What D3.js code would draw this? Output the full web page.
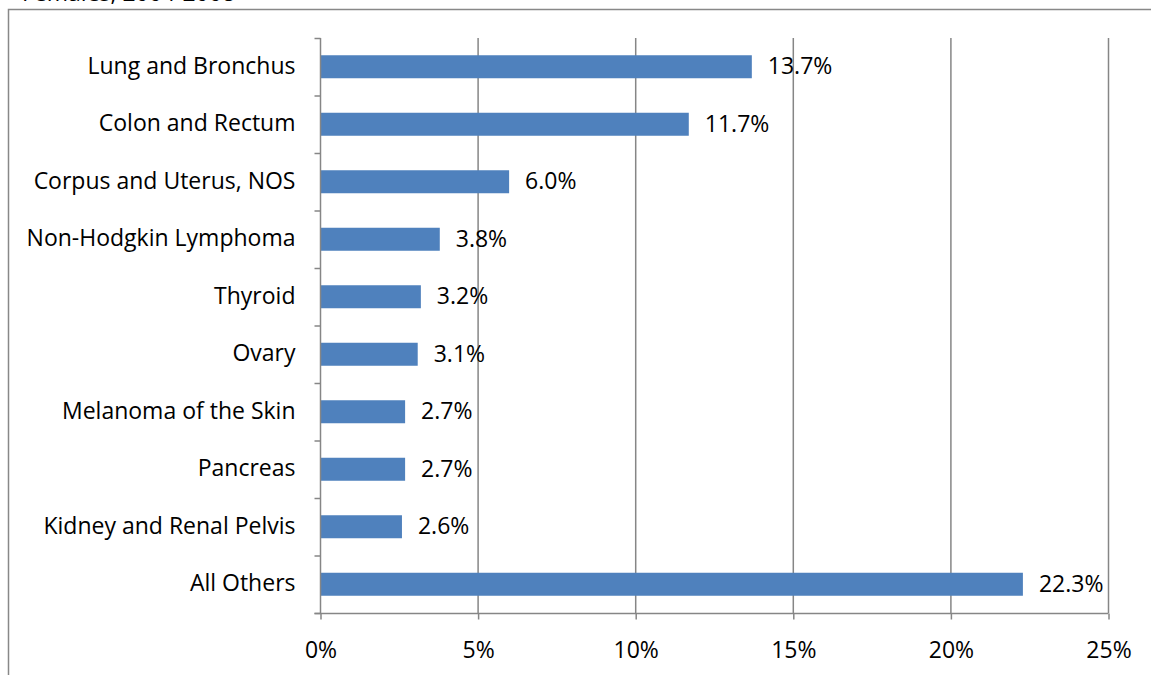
<!DOCTYPE html>
<html>
<head>
<meta charset="utf-8">
<script src="https://cdn.jsdelivr.net/npm/d3@7"></script>
<style>
  html, body { margin: 0; padding: 0; background: #fff; }
  svg { display: block; }
  text { font-family: "Open Sans", "Noto Sans", sans-serif; fill: #000; }
</style>
</head>
<body>
<svg id="chart" width="1151" height="675"></svg>
<script>
const categories = ["Lung and Bronchus", "Colon and Rectum", "Corpus and Uterus, NOS", "Non-Hodgkin Lymphoma", "Thyroid", "Ovary", "Melanoma of the Skin", "Pancreas", "Kidney and Renal Pelvis", "All Others"];
const values = [13.7, 11.7, 6.0, 3.8, 3.2, 3.1, 2.7, 2.7, 2.6, 22.3];
const valueLabels = ["13.7%", "11.7%", "6.0%", "3.8%", "3.2%", "3.1%", "2.7%", "2.7%", "2.6%", "22.3%"];
const xTicks = [0, 5, 10, 15, 20, 25];
const xTickLabels = ["0%", "5%", "10%", "15%", "20%", "25%"];
const titleText = "Females, 2004-2008";

(function () {
const svg = d3.select("#chart");
const fontSize = 23;
const fam = "'Open Sans', 'Noto Sans', sans-serif";

// clipped title at the very top
svg.append("text").attr("x", 22).attr("y", 1).attr("font-size", fontSize).text(titleText);

// outer frame (right & bottom off-canvas)
svg.append("path").attr("d", "M8.5,676 L8.5,9.5 L1152,9.5").attr("fill", "none").attr("stroke", "#888").attr("stroke-width", 1.5);

const pLeft = 320, pRight = 1108, pTop = 38, pBottom = 613;
const x = d3.scaleLinear().domain([0, 25]).range([pLeft, pRight]);
const y = d3.scaleBand().domain(categories).range([pTop, pBottom]).padding(0);

// gridlines
svg.append("g").selectAll("line").data(xTicks.slice(1)).join("line")
  .attr("x1", d => x(d) + 0.5).attr("x2", d => x(d) + 0.5)
  .attr("y1", pTop).attr("y2", pBottom)
  .attr("stroke", "#868686").attr("stroke-width", 1.5);

// bars
const barFrac = 0.4;
svg.append("g").selectAll("rect").data(values).join("rect")
  .attr("x", x(0) + 1)
  .attr("y", (d, i) => y(categories[i]) + y.bandwidth() * (1 - barFrac) / 2)
  .attr("width", d => x(d) - x(0) - 1)
  .attr("height", y.bandwidth() * barFrac)
  .attr("fill", "#4F81BD");

// value labels
svg.append("g").selectAll("text").data(values).join("text")
  .attr("x", d => x(d) + 16)
  .attr("y", (d, i) => y(categories[i]) + y.bandwidth() / 2 + 7.5)
  .attr("font-size", fontSize)
  .text((d, i) => valueLabels[i]);

// x axis
const xAxis = d3.axisBottom(x).tickValues(xTicks).tickFormat((d, i) => xTickLabels[i]).tickSize(6);
const gx = svg.append("g").attr("transform", `translate(0.5,${pBottom + 0.5})`).call(xAxis);
gx.select(".domain").attr("d", `M${pLeft - 6},0H${pRight}`).attr("stroke", "#868686").attr("stroke-width", 1.5);
gx.selectAll(".tick line").attr("stroke", "#868686").attr("stroke-width", 1.5);
gx.selectAll(".tick text").attr("font-size", fontSize).attr("font-family", fam).attr("fill", "#000")
  .attr("y", 44).attr("dy", 0);

// y axis
const gy = svg.append("g").attr("transform", `translate(${pLeft + 0.5},0)`);
gy.append("line").attr("x1", 0).attr("x2", 0).attr("y1", pTop).attr("y2", pBottom).attr("stroke", "#868686").attr("stroke-width", 1.5);
const yTickPos = categories.map(c => y(c)).concat([pBottom]);
gy.selectAll("line.tk").data(yTickPos).join("line").attr("class", "tk")
  .attr("x1", -6).attr("x2", 0).attr("y1", d => d + 0.5).attr("y2", d => d + 0.5)
  .attr("stroke", "#868686").attr("stroke-width", 1.5);
gy.selectAll("text").data(categories).join("text")
  .attr("x", -25).attr("y", d => y(d) + y.bandwidth() / 2 + 6.8)
  .attr("text-anchor", "end").attr("font-size", fontSize)
  .text(d => d);
})();
</script>
</body>
</html>
